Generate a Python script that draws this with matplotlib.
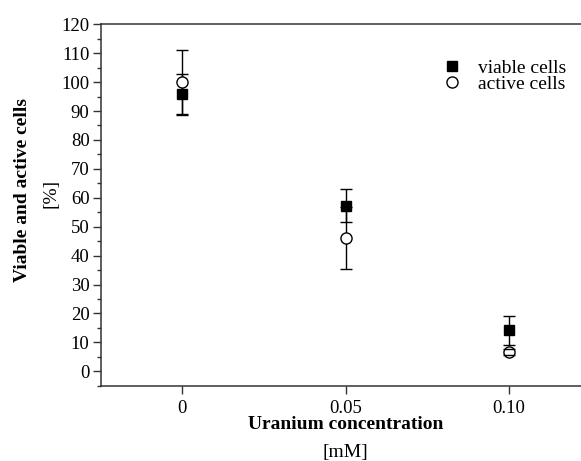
import matplotlib
matplotlib.use('Agg')
import matplotlib.pyplot as plt
from matplotlib.ticker import MultipleLocator, FixedLocator
import numpy as np

plt.rcParams['font.family'] = ['Liberation Serif', 'DejaVu Serif']

# uranium concentration [mM]
conc = [0.0, 0.05, 0.10]
conc_labels = ['0', '0.05', '0.10']

# viable cells [%] with standard deviation
viable = [95.8, 57.3, 14.1]
viable_err = [7.0, 5.8, 5.0]

# active cells [%] with standard deviation
active = [100.0, 46.1, 6.6]
active_err = [11.1, 10.7, 1.0]

W, H = 581, 461
fig = plt.figure(figsize=(W / 100, H / 100), dpi=100)
# axes run past the right edge of the figure
ax = fig.add_axes([100.7 / W, 75.3 / H, 490 / W, 361.4 / H])

spine_col = '#333333'

# viable: filled squares
ax.errorbar(conc, viable, yerr=viable_err, fmt='none', ecolor='black',
            elinewidth=1.0, capsize=4, capthick=1.0, zorder=1)
ax.plot(conc, viable, linestyle='none', marker='s', markersize=7.5,
        markerfacecolor='black', markeredgecolor='black', zorder=2,
        label='viable cells')

# active: open circles, caps drawn over the marker
eb2 = ax.errorbar(conc, active, yerr=active_err, fmt='none', ecolor='black',
                  elinewidth=1.0, capsize=4, capthick=1.0, zorder=1)
for cap in eb2[1]:
    cap.set_zorder(3)
ax.plot(conc, active, linestyle='none', marker='o', markersize=8,
        markerfacecolor='white', markeredgecolor='black', markeredgewidth=1.0,
        zorder=2, label='active cells')

ax.set_xlim(-0.025, 0.125)
ax.set_ylim(-5, 120)
ax.xaxis.set_major_locator(FixedLocator(conc))
ax.set_xticklabels(conc_labels)
ax.yaxis.set_major_locator(MultipleLocator(10))
ax.yaxis.set_minor_locator(MultipleLocator(5))

for side in ['left', 'bottom', 'top']:
    ax.spines[side].set_color(spine_col)
    ax.spines[side].set_linewidth(1.1)
ax.spines['right'].set_visible(False)

ax.tick_params(axis='both', which='major', direction='out', length=6,
               width=1.0, color=spine_col, labelsize=13.5)
ax.tick_params(axis='y', which='minor', direction='out', length=3,
               width=1.0, color=spine_col)
ax.tick_params(axis='y', which='major', pad=2)
ax.tick_params(axis='x', which='major', pad=4)

ax.legend(loc='upper left', bbox_to_anchor=(332 / 490, 0.93), frameon=False,
          fontsize=14, labelspacing=-0.1, handletextpad=0.85,
          handlelength=1.0, borderpad=0)

# axis titles: bold quantity, regular unit line underneath
fig.text(345.8 / W, (H - 424) / H, 'Uranium concentration', ha='center',
         va='center', fontsize=14, fontweight='bold')
fig.text(345.8 / W, (H - 452) / H, '[mM]', ha='center', va='center',
         fontsize=14)
fig.text(23 / W, (H - 190) / H, 'Viable and active cells', ha='center',
         va='center', rotation=90, fontsize=14, fontweight='bold')
fig.text(51 / W, (H - 193) / H, '[%]', ha='center', va='center',
         rotation=90, fontsize=14)

fig.savefig('out.png', dpi=100)
